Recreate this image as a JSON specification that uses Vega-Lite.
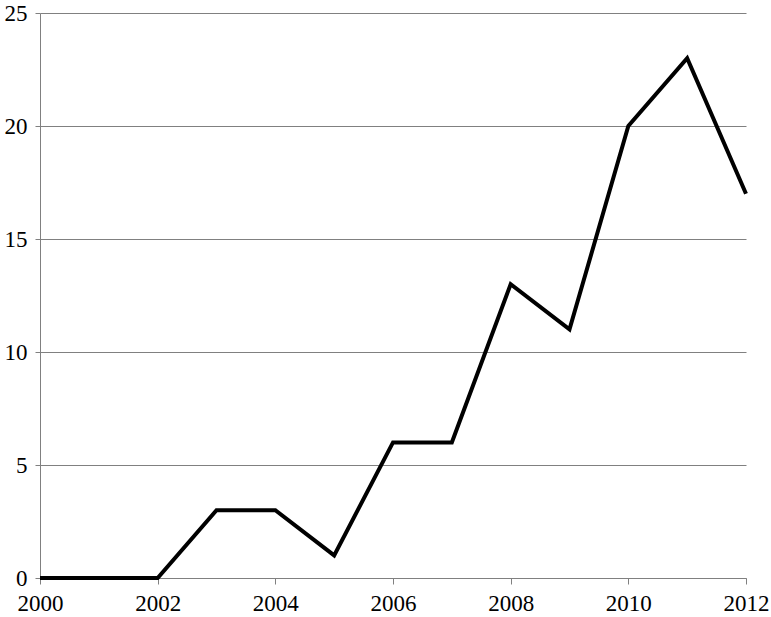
{
  "$schema": "https://vega.github.io/schema/vega-lite/v6.json",
  "width": 706,
  "height": 565,
  "autosize": {"type": "none"},
  "padding": {"left": 40, "top": 13, "right": 25, "bottom": 39},
  "background": "white",
  "config": {"view": {"stroke": null}},
  "data": {"values": [
    {"year": 2000, "value": 0},
    {"year": 2001, "value": 0},
    {"year": 2002, "value": 0},
    {"year": 2003, "value": 3},
    {"year": 2004, "value": 3},
    {"year": 2005, "value": 1},
    {"year": 2006, "value": 6},
    {"year": 2007, "value": 6},
    {"year": 2008, "value": 13},
    {"year": 2009, "value": 11},
    {"year": 2010, "value": 20},
    {"year": 2011, "value": 23},
    {"year": 2012, "value": 17}
  ]},
  "mark": {"type": "line", "color": "black", "strokeWidth": 4, "strokeJoin": "miter"},
  "encoding": {
    "x": {
      "field": "year", "type": "quantitative",
      "scale": {"domain": [2000, 2012], "nice": false, "zero": false},
      "axis": {
        "title": null, "values": [2000, 2002, 2004, 2006, 2008, 2010, 2012], "format": "d",
        "grid": false, "domainColor": "#808080", "domainWidth": 1, "tickColor": "#808080", "tickSize": 6,
        "labelFont": "Liberation Serif", "labelFontSize": 23, "labelColor": "black", "labelPadding": 8,
        "labelFlush": false, "labelOverlap": false
      }
    },
    "y": {
      "field": "value", "type": "quantitative",
      "scale": {"domain": [0, 25], "nice": false},
      "axis": {
        "title": null, "values": [0, 5, 10, 15, 20, 25],
        "grid": true, "gridColor": "#808080", "gridWidth": 1,
        "domainColor": "#808080", "domainWidth": 1, "tickColor": "#808080", "tickSize": 5,
        "labelFont": "Liberation Serif", "labelFontSize": 23, "labelColor": "black", "labelPadding": 8,
        "labelFlush": false, "labelOverlap": false
      }
    }
  }
}
